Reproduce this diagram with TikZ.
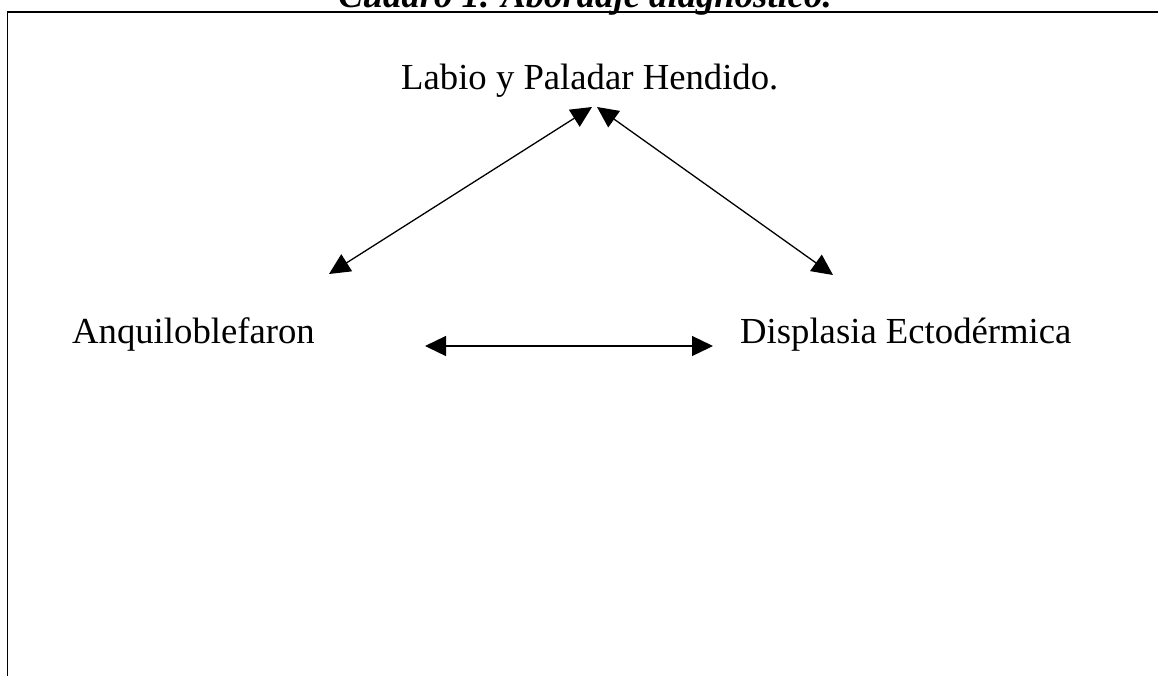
\documentclass[tikz,border=0pt]{standalone}
\usepackage{fontspec}
\setmainfont{Liberation Serif}
\usetikzlibrary{arrows.meta}
\begin{document}
\begin{tikzpicture}[x=1pt,y=-1pt,
  lbl/.style={inner sep=0pt,anchor=base west,font=\fontsize{36.7}{44}\selectfont},
  conn/.style={line width=1.3pt,{Triangle[length=21pt,width=20pt]}-{Triangle[length=21pt,width=20pt]}},
  frame/.style={line width=1.7pt}]
\useasboundingbox (0,0) rectangle (1158,675);
\clip (0,0) rectangle (1158,675);
\node[inner sep=0pt,anchor=base,font=\fontsize{36.7}{44}\selectfont\bfseries\itshape] (title) at (585,7) {Cuadro 1. Abordaje diagnóstico.};
\draw[frame] (7.5,676) -- (7.5,12) -- (1160,12);
\node[lbl] (lph) at (401,89) {Labio y Paladar Hendido.};
\node[lbl] (anq) at (72,343) {Anquiloblefaron};
\node[lbl] (dis) at (740,343) {Displasia Ectodérmica};
\coordinate (lphL) at (592,107);
\coordinate (lphR) at (597,107);
\coordinate (anqT) at (329,274);
\coordinate (disT) at (833,275);
\coordinate (anqR) at (425,346);
\coordinate (disL) at (713,346);
\draw[conn] (anqT) -- (lphL);
\draw[conn] (lphR) -- (disT);
\draw[conn] (anqR) -- (disL);
\end{tikzpicture}
\end{document}
